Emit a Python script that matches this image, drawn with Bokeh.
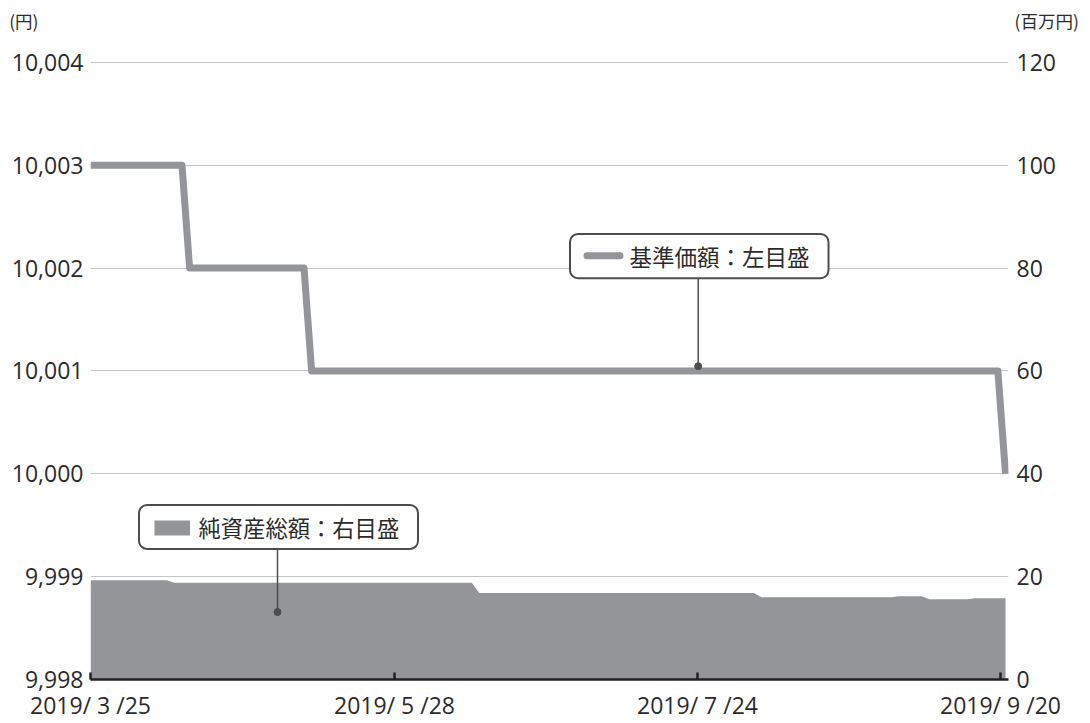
import numpy as np
from bokeh.plotting import figure
from bokeh.layouts import column
from bokeh.models import (Range1d, LinearAxis, FixedTicker, NumeralTickFormatter,
                          BoxAnnotation, Label, Grid)
from bokeh.embed import file_html
from bokeh.resources import INLINE

# ---------------- data ----------------
# business-day index 0 = 2019/3/25 ... 120 = 2019/9/20
date_labels = ["2019/ 3 /25", "2019/ 5 /28", "2019/ 7 /24", "2019/ 9 /20"]

# 基準価額 (円)
nav = [
    10003, 10003, 10003, 10003, 10003, 10003, 10003, 10003, 10003, 10003,
    10003, 10003, 10003, 10002, 10002, 10002, 10002, 10002, 10002, 10002,
    10002, 10002, 10002, 10002, 10002, 10002, 10002, 10002, 10002, 10001,
    10001, 10001, 10001, 10001, 10001, 10001, 10001, 10001, 10001, 10001,
    10001, 10001, 10001, 10001, 10001, 10001, 10001, 10001, 10001, 10001,
    10001, 10001, 10001, 10001, 10001, 10001, 10001, 10001, 10001, 10001,
    10001, 10001, 10001, 10001, 10001, 10001, 10001, 10001, 10001, 10001,
    10001, 10001, 10001, 10001, 10001, 10001, 10001, 10001, 10001, 10001,
    10001, 10001, 10001, 10001, 10001, 10001, 10001, 10001, 10001, 10001,
    10001, 10001, 10001, 10001, 10001, 10001, 10001, 10001, 10001, 10001,
    10001, 10001, 10001, 10001, 10001, 10001, 10001, 10001, 10001, 10001,
    10001, 10001, 10001, 10001, 10001, 10001, 10001, 10001, 10001, 10001,
    10000,
]

# 純資産総額 (百万円)
assets = [
    19.3, 19.3, 19.3, 19.3, 19.3, 19.3, 19.3, 19.3, 19.3, 19.3,
    19.3, 18.8, 18.8, 18.8, 18.8, 18.8, 18.8, 18.8, 18.8, 18.8,
    18.8, 18.8, 18.8, 18.8, 18.8, 18.8, 18.8, 18.8, 18.8, 18.8,
    18.8, 18.8, 18.8, 18.8, 18.8, 18.8, 18.8, 18.8, 18.8, 18.8,
    18.8, 18.8, 18.8, 18.8, 18.8, 18.8, 18.8, 18.8, 18.8, 18.8,
    18.8, 16.8, 16.8, 16.8, 16.8, 16.8, 16.8, 16.8, 16.8, 16.8,
    16.8, 16.8, 16.8, 16.8, 16.8, 16.8, 16.8, 16.8, 16.8, 16.8,
    16.8, 16.8, 16.8, 16.8, 16.8, 16.8, 16.8, 16.8, 16.8, 16.8,
    16.8, 16.8, 16.8, 16.8, 16.8, 16.8, 16.8, 16.8, 16.0, 16.0,
    16.0, 16.0, 16.0, 16.0, 16.0, 16.0, 16.0, 16.0, 16.0, 16.0,
    16.0, 16.0, 16.0, 16.0, 16.0, 16.0, 16.2, 16.2, 16.2, 16.2,
    15.6, 15.6, 15.6, 15.6, 15.6, 15.6, 15.8, 15.8, 15.8, 15.8,
    15.8,
]

left_ticks = [9998, 9999, 10000, 10001, 10002, 10003, 10004]
right_ticks = [0, 20, 40, 60, 80, 100, 120]
left_unit = "(円)"
right_unit = "(百万円)"
nav_name = "基準価額：左目盛"
assets_name = "純資産総額：右目盛"

# ---------------- layout (page pixels) ----------------
W, H = 1090, 723
TOP_H = 34                     # strip holding the unit labels
PX_L, PX_R = 90, 1005          # pixel position of first / last day
PX_T, PX_B = 62, 681           # pixel position of top / bottom tick
FRAME_R = 1008                 # right edge of plotting frame
N = len(nav)

def dx(px):
    return (px - PX_L) / (PX_R - PX_L) * (N - 1)

def dy(py):
    y0, y1 = left_ticks[0], left_ticks[-1]
    return y1 - (py - PX_T) / (PX_B - PX_T) * (y1 - y0)

def dr(py):
    r0, r1 = right_ticks[0], right_ticks[-1]
    return r1 - (py - PX_T) / (PX_B - PX_T) * (r1 - r0)

TICK_PX = [90, 394, 697, 1000]
tick_x = [round(dx(v), 4) for v in TICK_PX]

GREY = "#939598"
DARK = "#2b2b2b"
BORDER = "#4d4d4d"
NUM_FONT = "Open Sans"
JP_FONT = "Noto Sans CJK JP"

def plain_axis(ax, font, size, standoff):
    ax.axis_line_color = None
    ax.major_tick_line_color = None
    ax.minor_tick_line_color = None
    ax.major_label_text_font = font
    ax.major_label_text_font_size = size
    ax.major_label_text_color = DARK
    ax.major_label_standoff = standoff

# ---------- unit strip (units shown as axis labels at the strip's edges) ----------
UNIT_Y = 20
top = figure(width=W, height=TOP_H, output_backend="svg", toolbar_location=None,
             x_range=Range1d(0, 1), y_range=Range1d(TOP_H, 0),
             x_axis_type=None, y_axis_type=None,
             min_border_left=PX_L, min_border_right=W - FRAME_R,
             min_border_top=0, min_border_bottom=0)
top.outline_line_color = None
ul = LinearAxis(ticker=FixedTicker(ticks=[UNIT_Y]),
                major_label_overrides={UNIT_Y: left_unit})
plain_axis(ul, JP_FONT, "17.5px", 46)
top.add_layout(ul, "left")
ur = LinearAxis(ticker=FixedTicker(ticks=[UNIT_Y]),
                major_label_overrides={UNIT_Y: right_unit})
plain_axis(ur, JP_FONT, "17.5px", 0)
top.add_layout(ur, "right")

# ---------- main chart ----------
MH = H - TOP_H
p = figure(width=W, height=MH, output_backend="svg", toolbar_location=None,
           x_range=Range1d(dx(PX_L), dx(FRAME_R)),
           y_range=Range1d(left_ticks[0], dy(TOP_H)),
           x_axis_type=None, y_axis_type=None,
           min_border_left=PX_L, min_border_right=W - FRAME_R,
           min_border_top=0, min_border_bottom=H - PX_B)
p.outline_line_color = None
p.background_fill_color = "white"
p.border_fill_color = "white"
p.extra_y_ranges = {"right": Range1d(right_ticks[0], dr(TOP_H))}

grid = Grid(dimension=1, ticker=FixedTicker(ticks=left_ticks),
            grid_line_color="#c4c4c4", grid_line_width=1.2)
p.add_layout(grid)

yl = LinearAxis(ticker=FixedTicker(ticks=left_ticks),
                formatter=NumeralTickFormatter(format="0,0"))
plain_axis(yl, NUM_FONT, "23px", 1)
p.add_layout(yl, "left")

yr = LinearAxis(y_range_name="right", ticker=FixedTicker(ticks=right_ticks))
plain_axis(yr, NUM_FONT, "23px", 2)
p.add_layout(yr, "right")

xa = LinearAxis(ticker=FixedTicker(ticks=tick_x),
                major_label_overrides={t: lab for t, lab in zip(tick_x, date_labels)})
xa.axis_line_color = "#231f20"
xa.axis_line_width = 2.5
xa.major_tick_line_color = "#231f20"
xa.major_tick_line_width = 2.5
xa.major_tick_in = 7
xa.major_tick_out = 0
xa.minor_tick_line_color = None
xa.major_label_text_font = NUM_FONT
xa.major_label_text_font_size = "23px"
xa.major_label_text_color = DARK
xa.major_label_standoff = 9
p.add_layout(xa, "below")

# series
idx = np.arange(N)
p.varea(x=idx, y1=np.zeros(len(assets)), y2=assets, y_range_name="right",
        fill_color=GREY, fill_alpha=1)
p.line(idx, nav, line_color=GREY, line_width=7, line_join="round")

# callout pointers
p.segment(x0=[dx(697.7), dx(277)], y0=[dy(278), dy(550)],
          x1=[dx(697.7), dx(277)], y1=[dy(366.7), dy(613.3)],
          line_color=BORDER, line_width=1.5)
p.scatter(x=[dx(697.7), dx(277)], y=[dy(366.7), dy(613.3)], size=7,
          fill_color=BORDER, line_color=BORDER)

def box(l, t, r, b, **kw):
    return BoxAnnotation(left=dx(l), right=dx(r), top=dy(t), bottom=dy(b), **kw)

p.add_layout(box(569.5, 234, 828, 278.5, fill_color="white", fill_alpha=1,
                 line_color=BORDER, line_alpha=1, line_width=2, border_radius=8))
p.add_layout(box(138.5, 506, 417.5, 550, fill_color="white", fill_alpha=1,
                 line_color=BORDER, line_alpha=1, line_width=2, border_radius=8))
p.add_layout(box(583, 252.5, 623, 259.5, fill_color=GREY, fill_alpha=1,
                 line_alpha=0, border_radius=4))
p.add_layout(box(154, 521.5, 189.5, 536.5, fill_color=GREY, fill_alpha=1,
                 line_alpha=0, border_radius=0))

p.add_layout(Label(x=dx(629), y=dy(256), text=nav_name, text_font=JP_FONT,
                   text_font_size="22.5px", text_color=DARK,
                   text_align="left", text_baseline="middle"))
p.add_layout(Label(x=dx(198), y=dy(528.5), text=assets_name, text_font=JP_FONT,
                   text_font_size="22.3px", text_color=DARK,
                   text_align="left", text_baseline="middle"))

layout = column(top, p, spacing=0)
open("out.html", "w").write(file_html(layout, INLINE))
